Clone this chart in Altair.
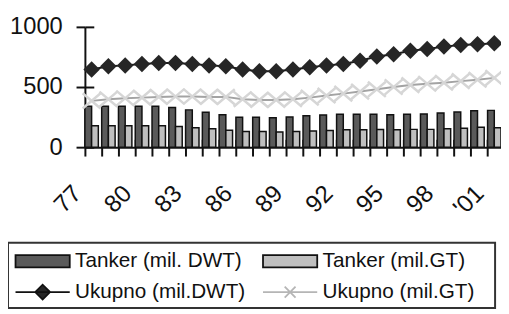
import json
import altair as alt
import pandas as pd

years = ["77", "78", "79", "80", "81", "82", "83", "84", "85", "86", "87", "88", "89",
         "90", "91", "92", "93", "94", "95", "96", "97", "98", "99", "'00", "'01"]
shown_labels = ["77", "80", "83", "86", "89", "92", "95", "98", "'01"]

tanker_dwt = [340, 340, 340, 340, 340, 330, 310, 290, 270, 248, 248, 245, 250,
              262, 268, 274, 274, 274, 270, 274, 276, 284, 292, 303, 306]
tanker_gt = [178, 178, 178, 178, 178, 172, 162, 153, 140, 131, 131, 127, 131,
             134, 139, 145, 145, 147, 145, 148, 148, 153, 158, 165, 162]
total_dwt = [645, 672, 680, 691, 699, 699, 691, 680, 672, 645, 631, 631, 645,
             664, 680, 691, 719, 754, 773, 801, 817, 836, 850, 855, 863]
total_gt = [385, 399, 407, 412, 418, 421, 421, 418, 418, 399, 393, 393, 399,
            412, 429, 445, 462, 481, 500, 516, 527, 535, 549, 560, 576]

series = ["Tanker (mil. DWT)", "Tanker (mil.GT)", "Ukupno (mil.DWT)", "Ukupno (mil.GT)"]

FONT = "Liberation Sans"
INK = "#111111"
DARK = "#5a5a5a"
LIGHT = "#bfbfbf"

bars = pd.DataFrame(
    [{"year": y, "series": series[0], "value": v} for y, v in zip(years, tanker_dwt)]
    + [{"year": y, "series": series[1], "value": v} for y, v in zip(years, tanker_gt)]
)
line_dwt = pd.DataFrame({"year": years, "value": total_dwt})
line_gt = pd.DataFrame({"year": years, "value": total_gt})
legend_df = pd.DataFrame({"series": series})

label_expr = "indexof(" + json.dumps(shown_labels) + ", datum.label) >= 0 ? datum.label : ''"

xscale = alt.Scale(paddingInner=0.2, paddingOuter=0)
yscale = alt.Scale(domain=[0, 1000])

x_main = alt.X("year:N", sort=years, scale=xscale, axis=alt.Axis(
    title=None, bandPosition=0, labelAngle=315, labelAlign="right", labelBaseline="middle",
    labelFont=FONT, labelFontSize=24.5, labelColor=INK, labelExpr=label_expr,
    labelPadding=34, labelOffset=-14, tickSize=9, tickWidth=2,
    tickColor=INK, domainColor=INK, domainWidth=2, grid=False, labelOverlap=False))
y_main = alt.Y("value:Q", scale=yscale, stack=None, axis=alt.Axis(
    title=None, values=[0, 500, 1000], format="d", labelFont=FONT, labelFontSize=24,
    labelColor=INK, labelPadding=14, tickSize=9, tickWidth=2, tickColor=INK,
    domainColor=INK, domainWidth=2, grid=False))

bar_layer = alt.Chart(bars).mark_bar(stroke=INK, strokeWidth=1.5, opacity=1).encode(
    x=x_main,
    xOffset=alt.XOffset("series:N", sort=series[:2],
                        scale=alt.Scale(paddingInner=0, paddingOuter=0)),
    y=y_main,
    fill=alt.condition(alt.datum.series == series[0], alt.value(DARK), alt.value(LIGHT)),
)

x_plain = alt.X("year:N", sort=years, scale=xscale, axis=None)
y_plain = alt.Y("value:Q", scale=yscale, axis=None)

# secondary axes give the crossing halves of the tick marks
x_cross = alt.X("year:N", sort=years, scale=xscale, axis=alt.Axis(
    orient="top", offset=-122, bandPosition=0, labels=False, domain=False,
    tickSize=8, tickWidth=2, tickColor=INK, title=None, grid=False))
y_cross = alt.Y("value:Q", scale=yscale, axis=alt.Axis(
    orient="right", offset=-422, values=[0, 500, 1000], labels=False, domain=False,
    tickSize=9, tickWidth=2, tickColor=INK, title=None, grid=False))

gt_line = alt.Chart(line_gt).mark_line(color="#a3a3a3", strokeWidth=2).encode(
    x=x_cross, y=y_cross)
gt_marks = alt.Chart(line_gt).mark_point(
    shape="M-1,-0.85L1,0.85M-1,0.85L1,-0.85", filled=False, stroke="#d6d6d6",
    strokeWidth=2.5, size=330, opacity=1).encode(x=x_plain, y=y_plain)
dwt_line = alt.Chart(line_dwt).mark_line(color="#1a1a1a", strokeWidth=2).encode(
    x=x_plain, y=y_plain)
dwt_marks = alt.Chart(line_dwt).mark_point(
    shape="diamond", filled=True, color="#262626", size=280, opacity=1).encode(
    x=x_plain, y=y_plain)

legend = alt.Legend(
    title=" ", titleFontSize=1, titlePadding=3,
    orient="none", legendX=-78, legendY=219, direction="horizontal", columns=2,
    gridAlign="each", columnPadding=14, rowPadding=9.5, padding=4, strokeColor="#333333",
    labelFont=FONT, labelFontSize=21, labelColor=INK, labelLimit=400, labelOffset=43,
    symbolSize=189, symbolStrokeWidth=1.8)

# the trailing move-to in the last symbol draws nothing; it only stretches the
# legend frame to the right as far as in the reference
shape_paths = [
    "M-1,-0.9H7V0.9H-1Z",
    "M-1,-0.9H7V0.9H-1Z",
    "M-1,0H7M1.9,0L3,-1.1L4.1,0L3,1.1Z",
    "M-1,0H7M2.2,-0.8L3.8,0.8M2.2,0.8L3.8,-0.8M32,0",
]
legend_layer = alt.Chart(legend_df).mark_point(opacity=1).encode(
    shape=alt.Shape("series:N", sort=series,
                    scale=alt.Scale(domain=series, range=shape_paths), legend=legend),
    fill=alt.Fill("series:N", sort=series,
                  scale=alt.Scale(domain=series, range=[DARK, LIGHT, "#262626", "transparent"]),
                  legend=legend),
    stroke=alt.Stroke("series:N", sort=series,
                      scale=alt.Scale(domain=series, range=[INK, INK, INK, "#b5b5b5"]),
                      legend=legend),
).transform_filter("false")

chart = alt.layer(bar_layer, gt_line, gt_marks, dwt_line, dwt_marks, legend_layer).resolve_axis(
    x="independent", y="independent"
).properties(
    width=422, height=122,
    padding={"left": 78, "top": 17, "right": 0, "bottom": 164},
    autosize=alt.AutoSizeParams(type="none"),
).configure_view(stroke=None).configure_legend(strokeWidth=2)

chart.save("out.html", embed_options={"renderer": "svg", "actions": False})
